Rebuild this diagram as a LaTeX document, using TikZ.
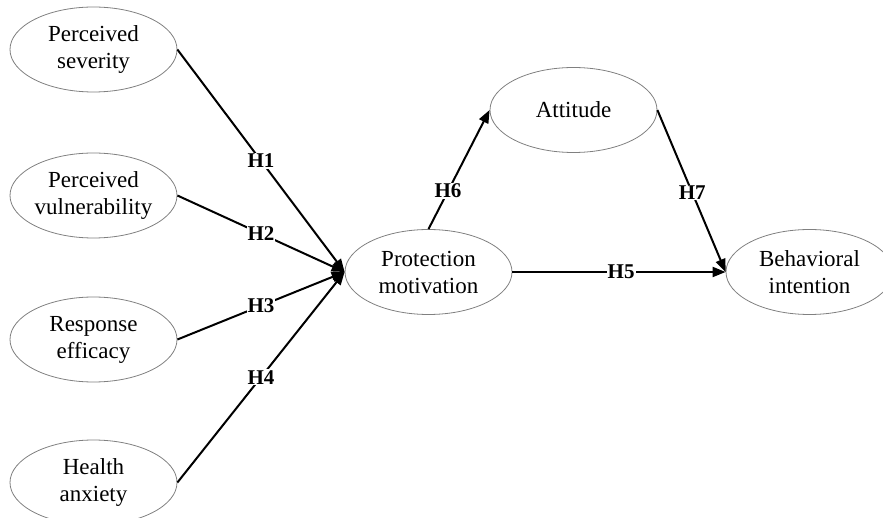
\documentclass[tikz,border=0pt]{standalone}
\usepackage{fontspec}
\setmainfont{Liberation Serif}
\usetikzlibrary{arrows.meta,shapes.geometric}
\definecolor{outline}{RGB}{128,128,128}
\begin{document}
\begin{tikzpicture}[x=1pt,y=-1pt,
  construct/.style={ellipse,draw=outline,line width=0.8pt,minimum width=167pt,minimum height=85pt,inner sep=0pt,align=center,font=\fontsize{23}{27}\selectfont},
  path/.style={line width=2pt,-{Triangle[length=13pt,width=10pt]}},
  hyp/.style={fill=white,inner sep=1pt,font=\fontsize{21}{23}\selectfont\bfseries}]
\useasboundingbox (0,0) rectangle (883,518);
\node[construct] (ps) at (93.5,49.5) {Perceived\\severity};
\node[construct] (pv) at (93.5,195.5) {Perceived\\vulnerability};
\node[construct] (re) at (93.5,339.5) {Response\\efficacy};
\node[construct] (ha) at (93.5,482.5) {Health\\anxiety};
\node[construct] (pm) at (428.5,272) {Protection\\motivation};
\node[construct] (at) at (573.5,110) {Attitude};
\node[construct] (bi) at (809.5,272) {Behavioral\\intention};
\draw[path] (ps.east) -- node[hyp,pos=0.5] {H1} (pm.west);
\draw[path] (pv.east) -- node[hyp,pos=0.5] {H2} (pm.west);
\draw[path] (re.east) -- node[hyp,pos=0.5] {H3} (pm.west);
\draw[path] (ha.east) -- node[hyp,pos=0.5] {H4} (pm.west);
\draw[path] (pm.north) -- node[hyp,pos=0.32] {H6} (at.west);
\draw[path] (at.east) -- node[hyp,pos=0.51] {H7} (bi.west);
\draw[path] (pm.east) -- node[hyp,pos=0.51] {H5} (bi.west);
\end{tikzpicture}
\end{document}
